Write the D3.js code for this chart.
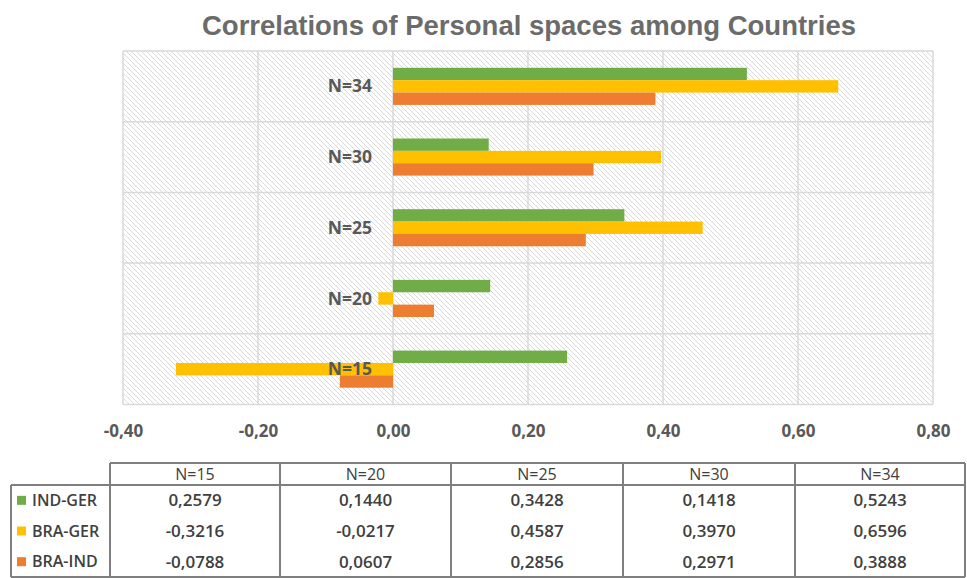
<!DOCTYPE html>
<meta charset="utf-8">
<style>
    body { margin: 0; background: #fff; }
    text { font-family: "Open Sans", sans-serif; }
</style>
<body>
<script src="https://cdn.jsdelivr.net/npm/d3@7"></script>
<script>
    var width = 967,
        height = 578

    // data
    var categories = ["N=15", "N=20", "N=25", "N=30", "N=34"]
    var seriesNames = ["IND-GER", "BRA-GER", "BRA-IND"]
    var indGer = [0.2579, 0.1440, 0.3428, 0.1418, 0.5243]
    var braGer = [-0.3216, -0.0217, 0.4587, 0.3970, 0.6596]
    var braInd = [-0.0788, 0.0607, 0.2856, 0.2971, 0.3888]
    var colors = ["#70ad47", "#ffc000", "#ed7d31"]
    var xTicks = [-0.4, -0.2, 0, 0.2, 0.4, 0.6, 0.8]

    var seriesValues = [indGer, braGer, braInd]

    var locale = d3.formatLocale({ decimal: ",", thousands: ".", grouping: [3], currency: ["", ""], minus: "-" })
    var fmtTick = locale.format(".2f")
    var fmtVal = locale.format(".4f")

    var svg = d3.select("body").append("svg")
        .attr("width", width)
        .attr("height", height)

    var defs = svg.append("defs")
    var pat = defs.append("pattern")
        .attr("id", "hatch")
        .attr("patternUnits", "userSpaceOnUse")
        .attr("width", 5)
        .attr("height", 5)
    pat.append("rect").attr("width", 5).attr("height", 5).attr("fill", "#ffffff")
    pat.append("path")
        .attr("d", "M0,0 L5,5 M-1,4 L1,6 M4,-1 L6,1")
        .attr("stroke", "#cccccc")
        .attr("stroke-width", 0.75)

    svg.append("text")
        .attr("x", 529)
        .attr("y", 35)
        .attr("text-anchor", "middle")
        .style("font-family", "'Liberation Sans', Arial, sans-serif")
        .style("font-weight", "bold")
        .style("font-size", "27.5px")
        .attr("fill", "#6b6b6b")
        .text("Correlations of Personal spaces among Countries")

    var x = d3.scaleLinear().domain([-0.4, 0.8]).range([123, 933])
    var y = d3.scaleBand()
        .domain(categories.slice().reverse())
        .range([51, 404.5])
        .padding(0)

    var bw = y.bandwidth()
    var groupH = bw * 0.525
    var y1 = d3.scaleBand()
        .domain(seriesNames)
        .range([(bw - groupH) / 2, (bw + groupH) / 2])

    // plot background
    svg.append("rect")
        .attr("x", x.range()[0])
        .attr("y", 51)
        .attr("width", x.range()[1] - x.range()[0])
        .attr("height", 404.5 - 51)
        .attr("fill", "url(#hatch)")

    // gridlines
    svg.append("g")
        .selectAll("line.v")
        .data(xTicks)
        .enter().append("line")
        .attr("x1", function (d) { return x(d) })
        .attr("x2", function (d) { return x(d) })
        .attr("y1", 51)
        .attr("y2", 404.5)
        .attr("stroke", "#d9d9d9")
        .attr("stroke-width", 1.5)

    var hLines = categories.map(function (c) { return y(c) }).concat([404.5])
    svg.append("g")
        .selectAll("line")
        .data(hLines)
        .enter().append("line")
        .attr("x1", 123)
        .attr("x2", 933)
        .attr("y1", function (d) { return d })
        .attr("y2", function (d) { return d })
        .attr("stroke", "#d9d9d9")
        .attr("stroke-width", 1.5)

    // bars
    var bars = []
    seriesNames.forEach(function (s, i) {
        categories.forEach(function (c, j) {
            bars.push({ series: s, cat: c, value: seriesValues[i][j], color: colors[i] })
        })
    })

    svg.append("g")
        .selectAll("rect")
        .data(bars)
        .enter().append("rect")
        .attr("x", function (d) { return Math.min(x(0), x(d.value)) })
        .attr("width", function (d) { return Math.abs(x(d.value) - x(0)) })
        .attr("y", function (d) { return y(d.cat) + y1(d.series) })
        .attr("height", y1.bandwidth())
        .attr("fill", function (d) { return d.color })

    // category labels
    svg.append("g")
        .selectAll("text")
        .data(categories)
        .enter().append("text")
        .attr("x", x(0) - 21)
        .attr("y", function (d) { return y(d) + bw / 2 })
        .attr("dy", "0.35em")
        .attr("text-anchor", "end")
        .style("font-weight", "bold")
        .style("font-size", "17.5px")
        .attr("fill", "#595959")
        .text(function (d) { return d })

    // x axis
    var xAxis = svg.append("g")
        .attr("transform", "translate(0,404.5)")
        .call(d3.axisBottom(x).tickValues(xTicks).tickFormat(fmtTick).tickSize(0).tickPadding(20))
    xAxis.select(".domain").remove()
    xAxis.selectAll("text")
        .style("font-family", "'Open Sans', sans-serif")
        .style("font-weight", "bold")
        .style("font-size", "17px")
        .attr("fill", "#595959")

    // data table
    var colEdges = [110, 280, 451, 623, 795, 965]
    var tTop = 463, tHead = 485, tBottom = 577, tLeft = 11
    var rowH = (tBottom - tHead) / 3
    var tg = svg.append("g")
    var border = "#7f7f7f"

    tg.append("line").attr("x1", colEdges[0]).attr("x2", colEdges[5]).attr("y1", tTop).attr("y2", tTop)
    tg.append("line").attr("x1", tLeft).attr("x2", colEdges[5]).attr("y1", tHead).attr("y2", tHead)
    tg.append("line").attr("x1", tLeft).attr("x2", colEdges[5]).attr("y1", tBottom).attr("y2", tBottom)
    tg.append("line").attr("x1", tLeft).attr("x2", tLeft).attr("y1", tHead).attr("y2", tBottom)
    tg.selectAll("line.col")
        .data(colEdges)
        .enter().append("line")
        .attr("class", "col")
        .attr("x1", function (d) { return d })
        .attr("x2", function (d) { return d })
        .attr("y1", tTop)
        .attr("y2", tBottom)
    tg.selectAll("line").attr("stroke", border).attr("stroke-width", 2)

    tg.selectAll("text.head")
        .data(categories)
        .enter().append("text")
        .attr("class", "head")
        .attr("x", function (d, i) { return (colEdges[i] + colEdges[i + 1]) / 2 })
        .attr("y", (tTop + tHead) / 2)
        .attr("dy", "0.35em")
        .attr("text-anchor", "middle")
        .style("font-size", "16px")
        .attr("fill", "#404040")
        .text(function (d) { return d })

    seriesNames.forEach(function (s, i) {
        var cy = tHead + rowH * (i + 0.5)
        tg.append("rect")
            .attr("x", 17)
            .attr("y", cy - 4.5)
            .attr("width", 9)
            .attr("height", 9)
            .attr("fill", colors[i])
        tg.append("text")
            .attr("x", 32)
            .attr("y", cy)
            .attr("dy", "0.35em")
            .style("font-size", "16px")
            .style("font-weight", "600")
            .attr("fill", "#404040")
            .text(s)
        tg.selectAll("text.v" + i)
            .data(seriesValues[i])
            .enter().append("text")
            .attr("x", function (d, j) { return (colEdges[j] + colEdges[j + 1]) / 2 })
            .attr("y", cy)
            .attr("dy", "0.35em")
            .attr("text-anchor", "middle")
            .style("font-size", "17px")
            .style("font-weight", "600")
            .attr("fill", "#404040")
            .text(function (d) { return fmtVal(d) })
    })
</script>
</body>
